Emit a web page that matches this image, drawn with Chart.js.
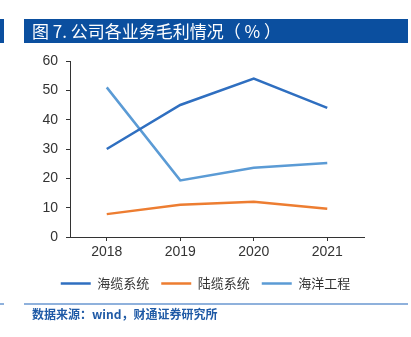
<!DOCTYPE html>
<html>
<head>
<meta charset="utf-8">
<script src="https://cdn.jsdelivr.net/npm/chart.js@4.4.0/dist/chart.umd.min.js"></script>
<style>
  body { margin: 0; width: 411px; height: 337px; background: #fff; position: relative; overflow: hidden;
         font-family: "Liberation Sans", "Noto Sans CJK SC", sans-serif; }
  #wrap { position: absolute; left: 0; top: 0; width: 411px; height: 337px; }
  .bar-left { position: absolute; left: 0; top: 19px; width: 4px; height: 24px; background: #0b4f9f; }
  .title { position: absolute; left: 24px; top: 19px; width: 384px; height: 24px; background: #0b4f9f;
           color: #fff; font-size: 17px; line-height: 24px; padding-left: 8px; box-sizing: border-box;
           font-family: "Noto Sans CJK SC", sans-serif; white-space: pre; }
  .foot-left { position: absolute; left: 0; top: 303px; width: 4px; height: 2px; background: #8fb1dc; }
  .foot-line { position: absolute; left: 24px; top: 303px; width: 384px; height: 2px; background: #8fb1dc; }
  .source { position: absolute; left: 32px; top: 305px; font-size: 12px; font-weight: bold; color: #1f5aa6;
            font-family: "Noto Sans CJK SC", sans-serif; }
</style>
</head>
<body>
<div id="wrap"><canvas id="chart"></canvas></div>
<div class="bar-left"></div>
<div class="title">图 7. 公司各业务毛利情况（ % ）</div>
<div class="foot-left"></div>
<div class="foot-line"></div>
<div class="source">数据来源：wind，财通证券研究所</div>
<script>
const years = ["2018", "2019", "2020", "2021"];
const haiLan = [30, 45, 54, 44];      // 海缆系统
const luLan = [7.8, 11, 12, 9.6];     // 陆缆系统
const haiYang = [51, 19.3, 23.6, 25.2]; // 海洋工程

const ctx = document.getElementById("chart");

new Chart(ctx, {
  type: "line",
  data: {
    labels: years,
    datasets: [
      { label: "海缆系统", data: haiLan, borderColor: "#2f6fc0", backgroundColor: "#2f6fc0", borderWidth: 2.5, pointRadius: 0 },
      { label: "陆缆系统", data: luLan, borderColor: "#ed7d31", backgroundColor: "#ed7d31", borderWidth: 2.5, pointRadius: 0 },
      { label: "海洋工程", data: haiYang, borderColor: "#5b9bd5", backgroundColor: "#5b9bd5", borderWidth: 2.5, pointRadius: 0 },
    ],
  },
  options: {
    responsive: true,
    maintainAspectRatio: false,
    animation: false,
    layout: { padding: { top: 61, right: 0, bottom: 37, left: 0 } },
    plugins: {
      tooltip: { enabled: false },
      legend: {
        position: "bottom",
        labels: {
          usePointStyle: true,
          pointStyle: "line",
          pointStyleWidth: 30,
          color: "#333",
          font: { size: 13, family: "'Noto Sans CJK SC', sans-serif" },
          padding: 12,
        },
      },
    },
    scales: {
      x: {
        offset: true,
        grid: { drawOnChartArea: false, tickLength: 4, color: "#333" },
        border: { color: "#333", width: 1 },
        ticks: { color: "#333", font: { size: 14, family: "'Liberation Sans', sans-serif" }, padding: 3 },
        afterFit: (s) => { s.height = 28; },
      },
      y: {
        min: 0,
        max: 60,
        grid: { drawOnChartArea: false, tickLength: 4, color: "#333" },
        border: { color: "#333", width: 1 },
        ticks: { stepSize: 10, color: "#333", font: { size: 14, family: "'Liberation Sans', sans-serif" }, padding: 8 },
        afterFit: (s) => { s.width = 70; },
      },
      right: {
        position: "right",
        grid: { display: false },
        border: { display: false },
        ticks: { display: false },
        afterFit: (s) => { s.width = 47; },
      },
    },
  },
});
</script>
</body>
</html>
